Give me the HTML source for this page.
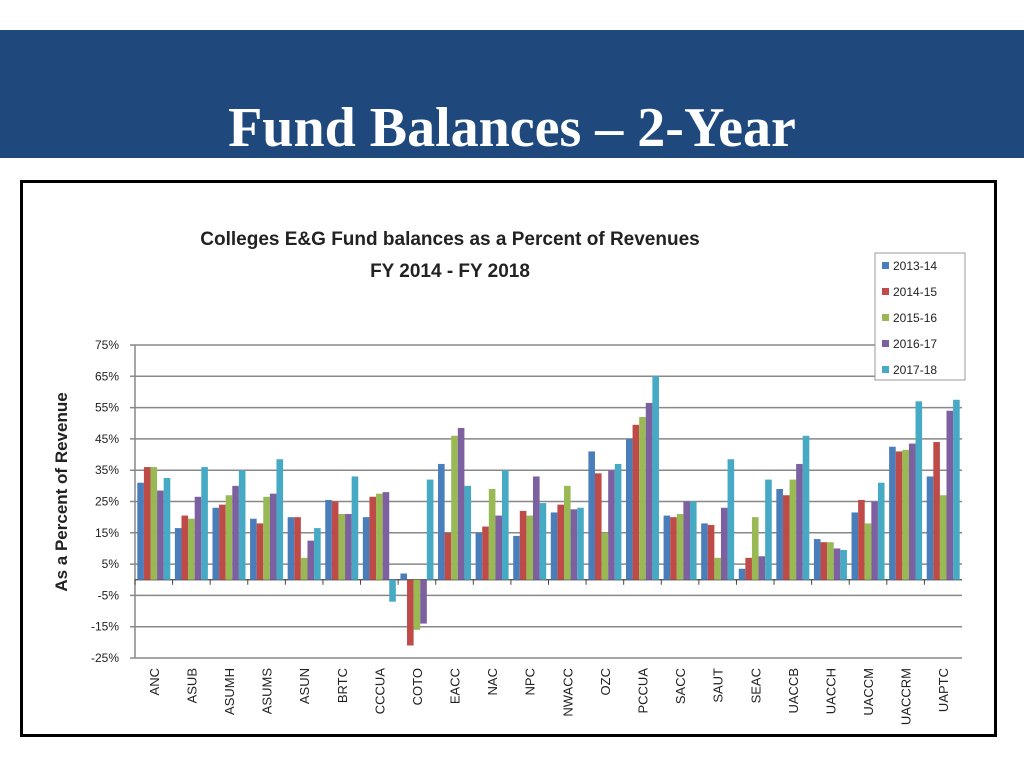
<!DOCTYPE html>
<html><head><meta charset="utf-8"><style>
body{margin:0;width:1024px;height:768px;background:#fff;overflow:hidden;font-family:"Liberation Sans",sans-serif}
#hdr{position:absolute;left:0;top:30px;width:1024px;height:128px;background:#1f497d}
#hdr h1{margin:0;position:absolute;left:0;width:1024px;top:66px;line-height:0;text-align:center;color:#fff;font:bold 56px "Liberation Serif",serif}
#box{position:absolute;left:20px;top:180px;width:977px;height:557px;border:3px solid #000;box-sizing:border-box}
</style></head><body>
<div id="hdr"><h1>Fund Balances – 2-Year</h1></div>
<div id="box"></div>
<svg id="chart" width="1024" height="768" style="position:absolute;left:0;top:0"></svg>
<script>
const categories=["ANC","ASUB","ASUMH","ASUMS","ASUN","BRTC","CCCUA","COTO","EACC","NAC","NPC","NWACC","OZC","PCCUA","SACC","SAUT","SEAC","UACCB","UACCH","UACCM","UACCRM","UAPTC"];
const seriesNames=["2013-14","2014-15","2015-16","2016-17","2017-18"];
const s2013=[31,16.5,23,19.5,20,25.5,20,2,37,15,14,21.5,41,45,20.5,18,3.5,29,13,21.5,42.5,33];
const s2014=[36,20.5,24,18,20,25,26.5,-21,15,17,22,24,34,49.5,20,17.5,7,27,12,25.5,41,44];
const s2015=[36,19.5,27,26.5,7,21,27.5,-16,46,29,20.5,30,15,52,21,7,20,32,12,18,41.5,27];
const s2016=[28.5,26.5,30,27.5,12.5,21,28,-14,48.5,20.5,33,22.5,35,56.5,25,23,7.5,37,10,25,43.5,54];
const s2017=[32.5,36,35,38.5,16.5,33,-7,32,30,35,24.5,23,37,65,25,38.5,32,46,9.5,31,57,57.5];
const tickValues=[75,65,55,45,35,25,15,5,-5,-15,-25];
const series=[s2013,s2014,s2015,s2016,s2017];
const colors=["#4a7ebb","#be4b48","#98b954","#7d60a0","#46aac5"];
const NS="http://www.w3.org/2000/svg",svg=document.getElementById('chart');
const X0=135,X1=962,YT=345,YB=658,VMAX=75,VMIN=-25;
const y=v=>YT+(VMAX-v)/(VMAX-VMIN)*(YB-YT);
const cw=(X1-X0)/categories.length;
const xc=i=>X0+cw*i;
function mk(t,a,txt){const e=document.createElementNS(NS,t);for(const k in a)e.setAttribute(k,a[k]);if(txt!=null)e.textContent=txt;svg.appendChild(e);return e;}
let e;
e=mk('text',{x:450,y:245,'text-anchor':'middle','font-size':19,'font-weight':'bold',fill:'#222'},'Colleges E&G Fund balances as a Percent of Revenues');


e=mk('text',{x:450,y:277,'text-anchor':'middle','font-size':19,'font-weight':'bold',fill:'#222'},'FY 2014 - FY 2018');


e=mk('text',{x:0,y:0,transform:'translate(67,492) rotate(-90)','text-anchor':'middle','font-size':17,'font-weight':'bold',fill:'#222'},'As a Percent of Revenue');


tickValues.forEach(v=>{
 e=mk('line',{x1:X0-5,x2:X1,y1:y(v),y2:y(v),stroke:'#888','stroke-width':1.5});
 
 
 e=mk('text',{x:119,y:y(v)+4,'text-anchor':'end','font-size':12,fill:'#222'},v+'%');
 
 
});
e=mk('line',{x1:X0,x2:X0,y1:YT,y2:YB,stroke:'#888','stroke-width':1.5});


e=mk('line',{x1:X0,x2:X1,y1:y(0),y2:y(0),stroke:'#444','stroke-width':1.2});


const bw=6.6;
categories.forEach((c,i)=>{
 e=mk('line',{x1:xc(i),x2:xc(i),y1:y(0),y2:y(0)+5,stroke:'#444'});
 
 
 const start=xc(i)+(cw-bw*5)/2;
 series.forEach((s,k)=>{
  const v=s[i];
  e=mk('rect',{x:start+k*bw,y:Math.min(y(v),y(0)),width:bw,height:Math.abs(y(v)-y(0)),fill:colors[k]});
  
  
 });
 e=mk('text',{x:0,y:0,transform:`translate(${xc(i)+cw/2+5},668) rotate(-90)`,'text-anchor':'end','font-size':13,fill:'#222'},c);
 
 
});
e=mk('rect',{x:875,y:253,width:90,height:127,fill:'#fff',stroke:'#999'});


seriesNames.forEach((n,k)=>{
 const ly=266+k*26;
 e=mk('rect',{x:882,y:ly-4,width:7,height:7,fill:colors[k]});
 
 
 e=mk('text',{x:893,y:ly+4,'font-size':12,fill:'#222'},n);
 
 
});
</script>
</body></html>
